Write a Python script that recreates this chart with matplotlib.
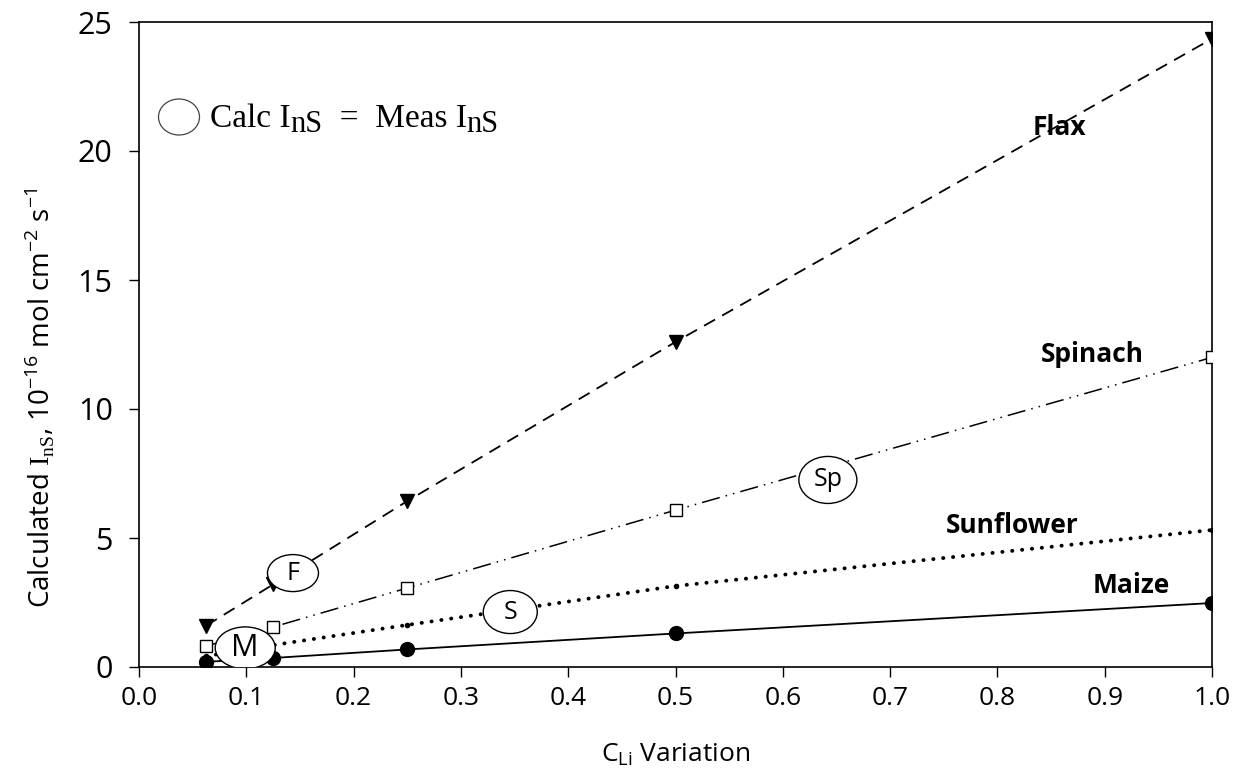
import matplotlib
matplotlib.use("Agg")
import matplotlib.pyplot as plt
from matplotlib.patches import Ellipse

plt.rcParams['font.family'] = ['Open Sans', 'DejaVu Sans']
plt.rcParams['mathtext.fontset'] = 'custom'
plt.rcParams['mathtext.rm'] = 'Liberation Serif'
plt.rcParams['mathtext.sf'] = 'Open Sans'

# ---- data ----
x_vals = [0.0625, 0.125, 0.25, 0.5, 1.0]
flax = [1.6, 3.2, 6.43, 12.6, 24.35]
spinach = [0.81, 1.55, 3.06, 6.08, 12.0]
sunflower = [0.42, 0.85, 1.63, 3.14, 5.31]
maize = [0.2, 0.35, 0.68, 1.3, 2.48]
x_ticks = [0.0, 0.1, 0.2, 0.3, 0.4, 0.5, 0.6, 0.7, 0.8, 0.9, 1.0]
y_ticks = [0, 5, 10, 15, 20, 25]
series_names = ['Flax', 'Spinach', 'Sunflower', 'Maize']
ellipse_labels = ['F', 'Sp', 'S', 'M']

W, H = 1243, 778
fig = plt.figure(figsize=(W / 100, H / 100), dpi=100)
L, R, T, B = 139, 1212, 22, 667
ax = fig.add_axes([L / W, 1 - B / H, (R - L) / W, (B - T) / H])

ax.plot(x_vals, flax, color='black', lw=1.3, linestyle=(0, (7, 4.5)),
        marker='v', markersize=10, markerfacecolor='black', zorder=3)
ax.plot(x_vals, spinach, color='black', lw=1.1, linestyle=(0, (12, 4, 1, 4, 1, 4)),
        marker='s', markersize=8.5, markerfacecolor='white', markeredgewidth=1.0, zorder=3)
ax.plot(x_vals, sunflower, color='black', lw=2.8, linestyle=(0, (0.05, 2.5)),
        dash_capstyle='round', marker='o', markersize=3, zorder=3)
ax.plot(x_vals, maize, color='black', lw=1.3, linestyle='-',
        marker='o', markersize=10, zorder=3)

ax.set_xlim(0, 1.0)
ax.set_ylim(0, 25)
ax.set_xticks(x_ticks)
ax.set_xticklabels([f"{v:.1f}" for v in x_ticks], fontsize=19)
ax.set_yticks(y_ticks)
ax.set_yticklabels([str(v) for v in y_ticks], fontsize=22)
ax.tick_params(direction='out', length=7, width=1.0, top=False, right=False)
ax.tick_params(axis='x', pad=7)
ax.tick_params(axis='y', pad=12)
for s in ax.spines.values():
    s.set_linewidth(1.2)

ax.set_xlabel(r"C$_{\mathsf{Li}}$ Variation", fontsize=19, labelpad=22)
ax.set_ylabel(r"Calculated $\mathrm{I}_{\mathrm{nS}}$, 10$^{\mathsf{-16}}$ mol cm$^{\mathsf{-2}}$ s$^{\mathsf{-1}}$",
              fontsize=20)
ax.yaxis.set_label_coords(-0.077, 0.417)

# series labels
label_pos = [(0.858, 20.9), (0.888, 12.1), (0.814, 5.5), (0.925, 3.15)]
for name, (lx, ly) in zip(series_names, label_pos):
    ax.text(lx, ly, name, fontsize=19, fontweight='bold', ha='center', va='center', zorder=5)

# ellipse callouts (pixel sizes converted to data units)
pxx = 1.0 / (R - L)
pxy = 25.0 / (B - T)
ell = [((0.1435, 3.64), 51, 37), ((0.642, 7.25), 58, 47), ((0.346, 2.13), 54, 43), ((0.099, 0.74), 60, 42)]
for lab, ((ex, ey), ew, eh) in zip(ellipse_labels, ell):
    e = Ellipse((ex, ey), ew * pxx, eh * pxy, facecolor='white', edgecolor='black', lw=1.0, zorder=4)
    ax.add_patch(e)
    ax.text(ex, ey, lab, fontsize=18 if lab != 'M' else 22, ha='center', va='center', zorder=6)

# legend ellipse
lx0 = (179 - L) * pxx
ly0 = (B - 117) * pxy
ax.add_patch(Ellipse((lx0, ly0), 41 * pxx, 36 * pxy, facecolor='white', edgecolor='#444444', lw=0.9, zorder=4))

# legend text composed of pieces
fig.canvas.draw()
renderer = fig.canvas.get_renderer()
serif = ['Liberation Serif', 'DejaVu Serif']
x_pix = 210
base_y = H - 127
pieces = [("Calc I", 0, 24), ("nS", -5, 22), ("  =  Meas I", 0, 24), ("nS", -5, 22)]
for txt, dy, fs in pieces:
    t = fig.text(x_pix / W, (base_y + dy) / H, txt, fontsize=fs, family=serif,
                 ha='left', va='baseline')
    bb = t.get_window_extent(renderer)
    x_pix = bb.x1

fig.savefig("out.png", dpi=100)
